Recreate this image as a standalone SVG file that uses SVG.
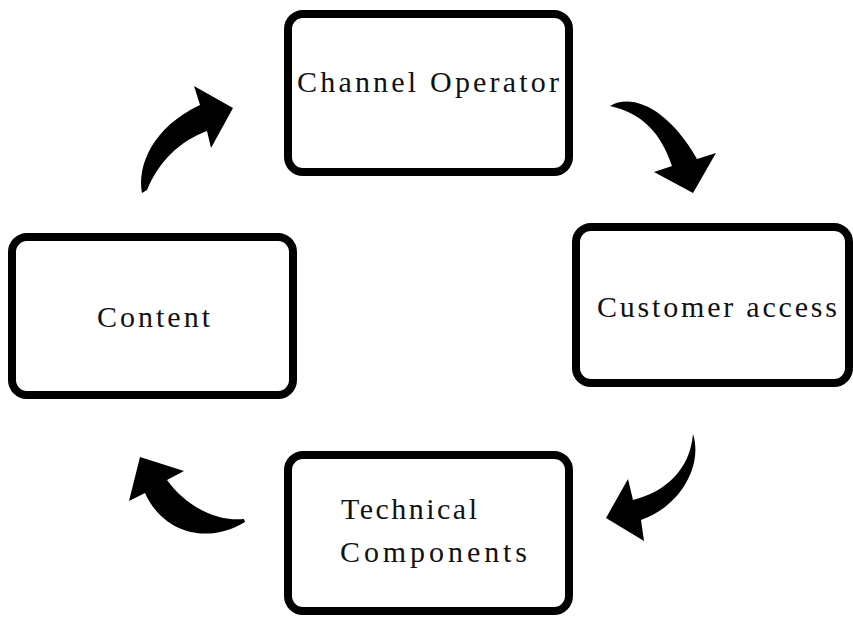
<svg xmlns="http://www.w3.org/2000/svg" width="853" height="617" viewBox="0 0 853 617">
  <style>
    .box { fill: #ffffff; stroke: #000000; stroke-width: 8; }
    .label { font-family: "Liberation Serif", "DejaVu Serif", serif; font-size: 30px; fill: #111111; }
    .arrow { fill: #000000; stroke: none; }
  </style>
  <rect width="853" height="617" fill="#ffffff"/>

  <g id="channel-operator">
    <rect class="box" x="288" y="14" width="281" height="158" rx="15"/>
    <text class="label" x="297" y="92" textLength="262" lengthAdjust="spacing">Channel Operator</text>
  </g>

  <g id="customer-access">
    <rect class="box" x="576" y="227" width="273" height="156" rx="15"/>
    <text class="label" x="597" y="317" textLength="240" lengthAdjust="spacing">Customer access</text>
  </g>

  <g id="content">
    <rect class="box" x="12" y="237" width="281" height="158" rx="15"/>
    <text class="label" x="97" y="327" textLength="113" lengthAdjust="spacing">Content</text>
  </g>

  <g id="technical-components">
    <rect class="box" x="288" y="455" width="281" height="156" rx="15"/>
    <text class="label" x="341" y="519" textLength="136" lengthAdjust="spacing">Technical</text>
    <text class="label" x="340" y="562" textLength="187" lengthAdjust="spacing">Components</text>
  </g>

  <g id="connectors">
    <!-- Content to Channel Operator -->
    <path class="arrow" d="M142,193 C137,165 153,127 200,105 L194,86 L233,108 L211,148 L207,131 C180,141 159,161 147,190 Z"/>
    <!-- Channel Operator to Customer access -->
    <path class="arrow" d="M610,106 C632,93 668,108 697,159 L716,153 L693,193 L654,172 L672,166 C660,130 640,113 610,106 Z"/>
    <!-- Customer access to Technical Components -->
    <path class="arrow" d="M693,434 C703,465 681,506 641,520 L644,541 L606,518 L628,479 L633,500 C665,492 690,470 693,434 Z"/>
    <!-- Technical Components to Content -->
    <path class="arrow" d="M244,519 C215,522 185,505 167,480 L184,471 L140,457 L129,501 L145,493 C162,531 205,546 245,522 Z"/>
  </g>
</svg>
